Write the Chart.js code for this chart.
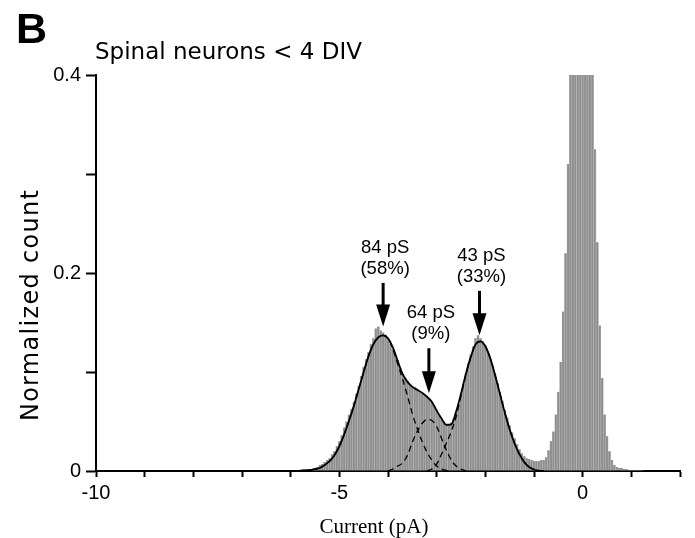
<!DOCTYPE html>
<html>
<head>
<meta charset="utf-8">
<script src="https://cdn.jsdelivr.net/npm/chart.js@4.4.1/dist/chart.umd.min.js"></script>
<style>
  html, body { margin: 0; padding: 0; background: #fff; }
  #wrap { width: 695px; height: 538px; }
</style>
</head>
<body>
<div id="wrap"><canvas id="chart" width="695" height="538"></canvas></div>
<script>
// ---- histogram (0.05 pA bins, first bin centred at -5.60 pA) ----
const binStart = -5.6;
const binWidth = 0.05;
const histCounts = [
  0.001, 0.002, 0.003, 0.004, 0.006, 0.007, 0.009, 0.011, 0.013, 0.017,
  0.020, 0.025, 0.030, 0.036, 0.044, 0.050, 0.057, 0.063, 0.070, 0.078,
  0.086, 0.096, 0.105, 0.113, 0.120, 0.128, 0.134, 0.144, 0.146, 0.142,
  0.140, 0.138, 0.134, 0.128, 0.124, 0.117, 0.112, 0.104, 0.098, 0.094,
  0.091, 0.088, 0.086, 0.085, 0.083, 0.081, 0.079, 0.078, 0.076, 0.073,
  0.070, 0.066, 0.062, 0.057, 0.053, 0.050, 0.048, 0.047, 0.049, 0.053,
  0.060, 0.068, 0.078, 0.088, 0.099, 0.109, 0.118, 0.126, 0.134, 0.137,
  0.134, 0.131, 0.127, 0.121, 0.114, 0.106, 0.098, 0.089, 0.080, 0.071,
  0.062, 0.054, 0.046, 0.039, 0.033, 0.027, 0.022, 0.018, 0.015, 0.013,
  0.012, 0.011, 0.010, 0.010, 0.010, 0.011, 0.011, 0.014, 0.021, 0.030,
  0.040, 0.057, 0.080, 0.110, 0.161, 0.220, 0.310, 0.41, 0.48, 0.56,
  0.62, 0.66, 0.67, 0.64, 0.58, 0.50, 0.42, 0.325, 0.231, 0.147,
  0.094, 0.057, 0.035, 0.020, 0.011, 0.006, 0.004, 0.003, 0.003, 0.002,
  0.002, 0.001, 0.001, 0.001, 0.001, 0.001, 0.001, 0.0008, 0.0006, 0.0005,
  0.0005
];

// ---- gaussian fit curves ----
const fitX = [
  -6.0, -5.9, -5.8, -5.7, -5.6, -5.5, -5.4, -5.3, -5.2, -5.1,
  -5.0, -4.9, -4.8, -4.7, -4.6, -4.5, -4.4, -4.3, -4.2, -4.1,
  -4.0, -3.9, -3.8, -3.7, -3.6, -3.5, -3.4, -3.3, -3.2, -3.1,
  -3.0, -2.9, -2.8, -2.7, -2.6, -2.5, -2.4, -2.3, -2.2, -2.1,
  -2.0, -1.9, -1.8, -1.7, -1.6, -1.5, -1.4, -1.3, -1.2, -1.1,
  -1.0, -0.9, -0.8
];
const fitTotal = [
  0, 0, 0.0003, 0.0007, 0.001, 0.002, 0.003, 0.006, 0.010, 0.016,
  0.025, 0.037, 0.051, 0.066, 0.083, 0.100, 0.116, 0.128, 0.135, 0.137,
  0.134, 0.125, 0.111, 0.098, 0.090, 0.085, 0.082, 0.079, 0.075, 0.070,
  0.061, 0.053, 0.0465, 0.047, 0.060, 0.078, 0.098, 0.115, 0.128, 0.131,
  0.126, 0.114, 0.097, 0.078, 0.059, 0.042, 0.028, 0.017, 0.009, 0.004,
  0.0015, 0.0003, 0
];
const fit84pS = [
  0, 0, 0.0003, 0.0007, 0.001, 0.002, 0.003, 0.006, 0.010, 0.016,
  0.025, 0.037, 0.051, 0.066, 0.083, 0.100, 0.116, 0.128, 0.135, 0.137,
  0.134, 0.123, 0.108, 0.093, 0.076, 0.058, 0.043, 0.030, 0.019, 0.011,
  0.005, 0.002, 0.0005, 0, null, null, null, null, null, null,
  null, null, null, null, null, null, null, null, null, null,
  null, null, null
];
const fit64pS = [
  null, null, null, null, null, null, null, null, null, null,
  null, null, null, null, null, null, null, null, null, null,
  0, 0.002, 0.005, 0.008, 0.016, 0.029, 0.040, 0.048, 0.052, 0.051,
  0.045, 0.033, 0.021, 0.011, 0.005, 0.002, 0, null, null, null,
  null, null, null, null, null, null, null, null, null, null,
  null, null, null
];
const fit43pS = [
  null, null, null, null, null, null, null, null, null, null,
  null, null, null, null, null, null, null, null, null, null,
  null, null, null, null, null, null, null, null, 0, 0.002,
  0.007, 0.017, 0.028, 0.040, 0.055, 0.076, 0.097, 0.115, 0.128, 0.131,
  0.126, 0.114, 0.097, 0.078, 0.059, 0.042, 0.028, 0.017, 0.009, 0.004,
  0.0015, 0.0003, 0
];

// ---- peak annotations ----
const peakLabels = ['84 pS', '64 pS', '43 pS'];
const peakShares = ['(58%)', '(9%)', '(33%)'];
const peakX = [-4.10, -3.16, -2.12];
const arrowTop = [0.190, 0.124, 0.182];
const arrowTip = [0.146, 0.0785, 0.137];

// ---- axes ----
const xTickValues = [-10, -5, 0];
const xTickLabels = ['-10', '-5', '0'];
const yTickValues = [0, 0.2, 0.4];
const yTickLabels = ['0', '0.2', '0.4'];

const histData = histCounts.map((v, i) => ({ x: binStart + i * binWidth, y: v }));
const curve = ys => fitX.map((x, i) => ({ x: x, y: ys[i] }));

function labelFor(values, labels, v) {
  const k = values.findIndex(t => Math.abs(t - v) < 1e-6);
  return k >= 0 ? labels[k] : '';
}

const SANS = "'Liberation Sans', Arial, Helvetica, sans-serif";

const textPlugin = {
  id: 'texts',
  afterDraw(chart) {
    const ctx = chart.ctx;
    const xs = chart.scales.x, ys = chart.scales.y;
    ctx.save();
    ctx.fillStyle = '#000';
    ctx.textBaseline = 'alphabetic';

    // panel letter + title
    ctx.textAlign = 'left';
    ctx.font = 'bold 43px ' + SANS;
    ctx.fillText('B', 16, 43);
    ctx.font = "23px 'DejaVu Sans', sans-serif";
    ctx.fillText('Spinal neurons < 4 DIV', 95, 59);

    // axis titles
    ctx.save();
    ctx.translate(38, 305);
    ctx.rotate(-Math.PI / 2);
    ctx.textAlign = 'center';
    ctx.font = "24px 'DejaVu Sans', sans-serif";
    if ('letterSpacing' in ctx) ctx.letterSpacing = '1.3px';
    ctx.fillText('Normalized count', 0, 0);
    ctx.restore();

    ctx.textAlign = 'center';
    ctx.font = "21px 'Liberation Serif', 'Times New Roman', serif";
    ctx.fillText('Current (pA)', 374, 533);

    // arrows and peak labels
    ctx.font = '18.5px ' + SANS;
    ctx.strokeStyle = '#000';
    for (let i = 0; i < peakX.length; i++) {
      const px = xs.getPixelForValue(peakX[i]);
      const top = ys.getPixelForValue(arrowTop[i]);
      const tip = ys.getPixelForValue(arrowTip[i]);
      const head = 22;
      ctx.lineWidth = 3;
      ctx.beginPath();
      ctx.moveTo(px, top);
      ctx.lineTo(px, tip - head + 2);
      ctx.stroke();
      ctx.beginPath();
      ctx.moveTo(px - 7, tip - head);
      ctx.lineTo(px + 7, tip - head);
      ctx.lineTo(px, tip);
      ctx.closePath();
      ctx.fill();
      ctx.fillText(peakShares[i], px + 2, top - 9);
      ctx.fillText(peakLabels[i], px + 2, top - 30);
    }
    ctx.restore();
  }
};

Chart.defaults.font.family = SANS;
Chart.defaults.color = '#000';

new Chart(document.getElementById('chart'), {
  type: 'bar',
  data: {
    datasets: [
      {
        type: 'line', data: curve(fitTotal), borderColor: '#000', borderWidth: 1.8,
        pointRadius: 0, cubicInterpolationMode: 'monotone', order: 0
      },
      {
        type: 'line', data: curve(fit84pS), borderColor: '#000', borderWidth: 1.3,
        borderDash: [6, 4], pointRadius: 0, cubicInterpolationMode: 'monotone', order: 1
      },
      {
        type: 'line', data: curve(fit64pS), borderColor: '#000', borderWidth: 1.3,
        borderDash: [6, 4], pointRadius: 0, cubicInterpolationMode: 'monotone', order: 1
      },
      {
        type: 'line', data: curve(fit43pS), borderColor: '#000', borderWidth: 1.3,
        borderDash: [6, 4], pointRadius: 0, cubicInterpolationMode: 'monotone', order: 1
      },
      {
        type: 'bar', data: histData, backgroundColor: '#8e8e8e', borderColor: '#b8b8b8',
        borderWidth: { left: 0.6, right: 0.6, top: 0, bottom: 0 }, borderSkipped: false,
        barPercentage: 1, categoryPercentage: 1, order: 10
      }
    ]
  },
  options: {
    responsive: false,
    animation: false,
    layout: { padding: { top: 75, right: 15, left: 0, bottom: 0 } },
    plugins: { legend: { display: false }, tooltip: { enabled: false } },
    scales: {
      x: {
        type: 'linear', min: -10, max: 2, offset: false,
        ticks: {
          stepSize: 1, autoSkip: false, maxRotation: 0, padding: 4,
          font: { size: 20 }, color: '#000',
          callback: v => labelFor(xTickValues, xTickLabels, v)
        },
        grid: { drawOnChartArea: false, offset: false, tickLength: 6, tickColor: '#000', tickWidth: 2 },
        border: { display: true, color: '#000', width: 2 },
        afterFit: s => { s.height = 67; }
      },
      y: {
        type: 'linear', min: 0, max: 0.4,
        ticks: {
          stepSize: 0.1, autoSkip: false, padding: 5,
          font: { size: 20 }, color: '#000',
          callback: v => labelFor(yTickValues, yTickLabels, v)
        },
        grid: { drawOnChartArea: false, tickLength: 10, tickColor: '#000', tickWidth: 2 },
        border: { display: true, color: '#000', width: 2 },
        afterFit: s => { s.width = 96; }
      }
    }
  },
  plugins: [textPlugin]
});
</script>
</body>
</html>
